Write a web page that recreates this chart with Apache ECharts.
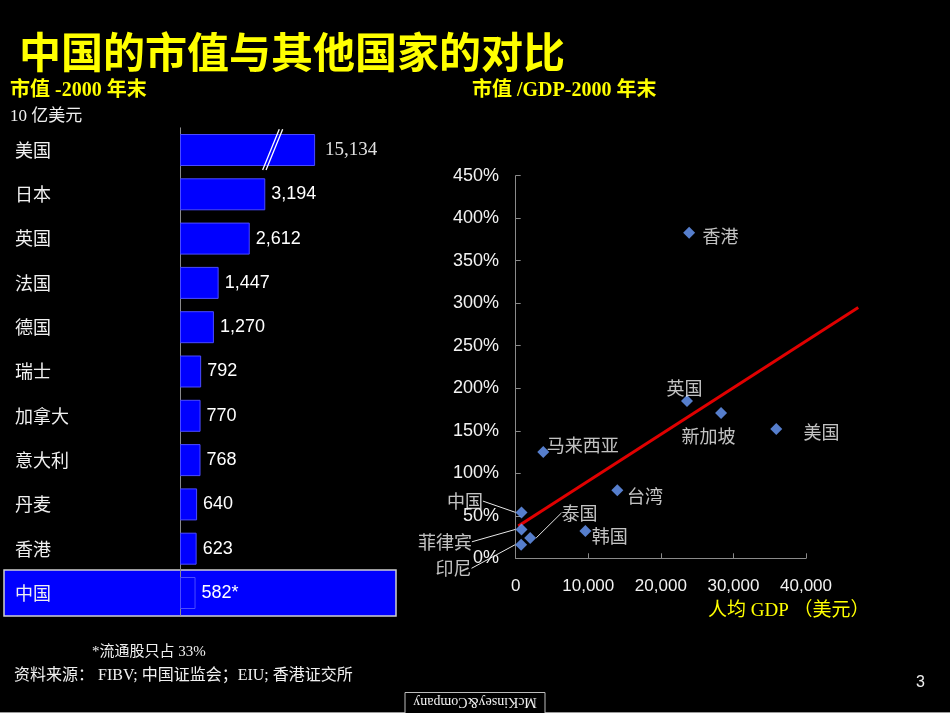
<!DOCTYPE html>
<html><head><meta charset="utf-8">
<script src="https://cdn.jsdelivr.net/npm/echarts@6/dist/echarts.min.js"></script>
<style>html,body{margin:0;padding:0;background:#000}#c{width:950px;height:713px}</style>
</head><body><div id="c"></div>
<script>
// ---------- data ----------
const barCountries = ['美国','日本','英国','法国','德国','瑞士','加拿大','意大利','丹麦','香港','中国'];
const marketCap = [15134,3194,2612,1447,1270,792,770,768,640,623,582]; // 10亿美元
const barCap = 5060;            // visual length of broken (capped) bar
const breakAt = 3470;           // where the break marks sit
const highlightCountry = '中国';
const footnoteMark = {'中国': '*'};

const scatterNames = ['香港','英国','新加坡','美国','马来西亚','台湾','中国','泰国','菲律宾','印尼','韩国'];
const gdpPerCapita = [23900,23600,28300,35900,3800,14000,800,2000,800,750,9600];
const capToGdp = [383,185,171,152,125,80,54,24,34,16,32]; // %
const trendGdp = [360, 47200];
const trendRatio = [38, 295];

// label placement (style): [dx, dy, align]
const labelPlacement = {
  '香港':[13.4,3,'left'], '英国':[-2.6,-13,'center'], '新加坡':[-12.5,23.4,'center'], '美国':[27.3,3,'left'],
  '马来西亚':[3.4,-7,'left'], '台湾':[9.7,6,'left'], '中国':[-38.6,-11.3,'right'], '泰国':[31.3,-25,'left'],
  '菲律宾':[-49.6,12.4,'right'], '印尼':[-49.6,23.6,'right'], '韩国':[6.4,4.7,'left']
};
const leaderLines = ['中国','泰国','菲律宾','印尼'];

// ---------- chart ----------
const CJK = '"Noto Sans CJK SC"';
const SERIF = '"Liberation Serif", "Noto Sans CJK SC"';
const SANS = '"Liberation Sans", Arial, sans-serif';
const fmt = v => v.toLocaleString('en-US');

const chart = echarts.init(document.getElementById('c'), null, {renderer: 'canvas'});

const sgLeft = 515.7, sgTop = 175.7, sgW = 290.3, sgH = 382.6, xMax = 40000, xMaxExt = 50000;

const option = {
  backgroundColor: '#000000',
  animation: false,
  grid: [
    {left: 180, top: 127.85, width: 213.6, height: 487.3, containLabel: false, outerBoundsMode: 'none'},
    {left: sgLeft, top: sgTop, width: sgW, height: sgH, containLabel: false, outerBoundsMode: 'none'},
    // same scale, wider extent: lets the trend line run past the last tick
    {left: sgLeft, top: sgTop, width: sgW * xMaxExt / xMax, height: sgH, containLabel: false, outerBoundsMode: 'none'}
  ],
  xAxis: [
    {gridIndex: 0, type: 'value', min: 0, max: 8000, show: false},
    {gridIndex: 1, type: 'value', min: 0, max: xMax, interval: 10000,
     axisLine: {show: true, lineStyle: {color: '#8a8a8a', width: 1}},
     axisTick: {show: true, inside: true, length: 5, lineStyle: {color: '#8a8a8a'}},
     splitLine: {show: false},
     axisLabel: {color: '#f2f2f2', fontFamily: SANS, fontSize: 17, margin: 20, formatter: v => fmt(v)}},
    {gridIndex: 2, type: 'value', min: 0, max: xMaxExt, show: false}
  ],
  yAxis: [
    {gridIndex: 0, type: 'category', inverse: true, data: barCountries,
     axisLine: {show: true, lineStyle: {color: '#8a8a8a', width: 1}},
     axisTick: {show: false},
     axisLabel: {color: '#f0f0f0', fontFamily: CJK, fontSize: 18, align: 'left', margin: 165}},
    {gridIndex: 1, type: 'value', min: 0, max: 450, interval: 50,
     axisLine: {show: true, lineStyle: {color: '#8a8a8a', width: 1}},
     axisTick: {show: true, inside: true, length: 5, lineStyle: {color: '#8a8a8a'}},
     splitLine: {show: false},
     axisLabel: {color: '#f2f2f2', fontFamily: SANS, fontSize: 18, margin: 16.7, formatter: v => v + '%'}},
    {gridIndex: 2, type: 'value', min: 0, max: 450, show: false}
  ],
  series: [
    {
      type: 'bar', xAxisIndex: 0, yAxisIndex: 0, barWidth: 32, z: 3,
      data: marketCap.map(v => Math.min(v, barCap)),
      itemStyle: {color: '#0000FF', borderColor: '#4a4aff', borderWidth: 1},
      label: {
        show: true, position: 'right', distance: 6,
        formatter: p => {
          const v = marketCap[p.dataIndex];
          const mark = footnoteMark[barCountries[p.dataIndex]] || '';
          return v > barCap ? '{s|' + fmt(v) + '}' : '{a|' + fmt(v) + mark + '}';
        },
        rich: {
          a: {color: '#ffffff', fontFamily: SANS, fontSize: 18},
          s: {color: '#e0e0e0', fontFamily: '"Liberation Serif", serif', fontSize: 19, padding: [0, 0, 0, 4]}
        }
      }
    },
    {
      type: 'line', xAxisIndex: 2, yAxisIndex: 2, clip: false, z: 1,
      data: trendGdp.map((g, i) => [g, trendRatio[i]]),
      symbol: 'none', lineStyle: {color: '#E00000', width: 3}
    },
    {
      type: 'scatter', xAxisIndex: 1, yAxisIndex: 1, z: 4,
      symbol: 'diamond', symbolSize: 12,
      itemStyle: {color: '#6C9EFF'},
      data: scatterNames.map((n, i) => ({
        name: n, value: [gdpPerCapita[i], capToGdp[i]],
        labelLine: {show: leaderLines.includes(n)}
      })),
      label: {show: true, formatter: p => p.name, color: '#f2f2f2', fontFamily: CJK, fontSize: 18},
      labelLine: {show: false, lineStyle: {color: '#e8e8e8', width: 1}},
      labelLayout: p => {
        const o = labelPlacement[scatterNames[p.dataIndex]];
        const cx = p.rect.x + p.rect.width / 2, cy = p.rect.y + p.rect.height / 2;
        return {x: cx + o[0], y: cy + o[1], align: o[2], verticalAlign: 'middle'};
      }
    }
  ]
};
chart.setOption(option);

// ---------- annotations ----------
const hiIdx = barCountries.indexOf(highlightCountry);
const hiY = chart.convertToPixel({xAxisIndex: 0, yAxisIndex: 0}, [0, hiIdx])[1];
const bp = chart.convertToPixel({xAxisIndex: 0, yAxisIndex: 0}, [breakAt, 0]);
const half = 16;

const graphics = [
  {type: 'text', left: 19, top: 31, style: {text: '中国的市值与其他国家的对比', fill: '#FFFF00', font: 'bold 42px ' + CJK}},
  {type: 'text', left: 10, top: 81, style: {text: '市值 -2000 年末', fill: '#FFFF00', font: 'bold 20px ' + SERIF}},
  {type: 'text', left: 10, top: 108, style: {text: '10 亿美元', fill: '#f0f0f0', font: '17px ' + SERIF}},
  {type: 'text', left: 472, top: 81, style: {text: '市值 /GDP-2000 年末', fill: '#FFFF00', font: 'bold 20px ' + SERIF}},
  {type: 'text', left: 708, top: 602, style: {text: '人均 GDP （美元）', fill: '#FFFF00', font: '19px ' + SERIF}},
  {type: 'text', left: 92, top: 645, style: {text: '*流通股只占 33%', fill: '#f0f0f0', font: '15px ' + SERIF}},
  {type: 'text', left: 14, top: 668, style: {text: '资料来源： FIBV; 中国证监会；EIU; 香港证交所', fill: '#f0f0f0', font: '16px ' + SERIF}},
  {type: 'text', left: 916, top: 675, style: {text: '3', fill: '#f0f0f0', font: '16px ' + SANS}},
  // highlight box behind China row
  {type: 'rect', z: -1, shape: {x: 4, y: hiY - 23, width: 392, height: 46},
   style: {fill: '#0000FF', stroke: '#d0d0d0', lineWidth: 1.5}},
  // break marks on the capped bar
  {type: 'line', z: 10, shape: {x1: bp[0] - 1.7 + 8.3, y1: bp[1] - half - 4.7, x2: bp[0] - 1.7 - 8.3, y2: bp[1] + half + 4},
   style: {stroke: '#ffffff', lineWidth: 1.3}},
  {type: 'line', z: 10, shape: {x1: bp[0] + 1.7 + 8.3, y1: bp[1] - half - 4.7, x2: bp[0] + 1.7 - 8.3, y2: bp[1] + half + 4},
   style: {stroke: '#ffffff', lineWidth: 1.3}},
  // bottom rule & logo
  {type: 'line', shape: {x1: 0, y1: 712.5, x2: 950, y2: 712.5}, style: {stroke: '#9a9a9a', lineWidth: 1}},
  {type: 'rect', z: 5, shape: {x: 405, y: 692.5, width: 140, height: 21}, style: {fill: '#000', stroke: '#bdbdbd', lineWidth: 1}},
  {type: 'text', z: 6, x: 475, y: 702, rotation: Math.PI,
   style: {text: 'McKinsey&Company', fill: '#f0f0f0', font: '14px "Liberation Serif", serif', align: 'center', verticalAlign: 'middle'}}
];
chart.setOption({graphic: graphics});
</script>
</body></html>
